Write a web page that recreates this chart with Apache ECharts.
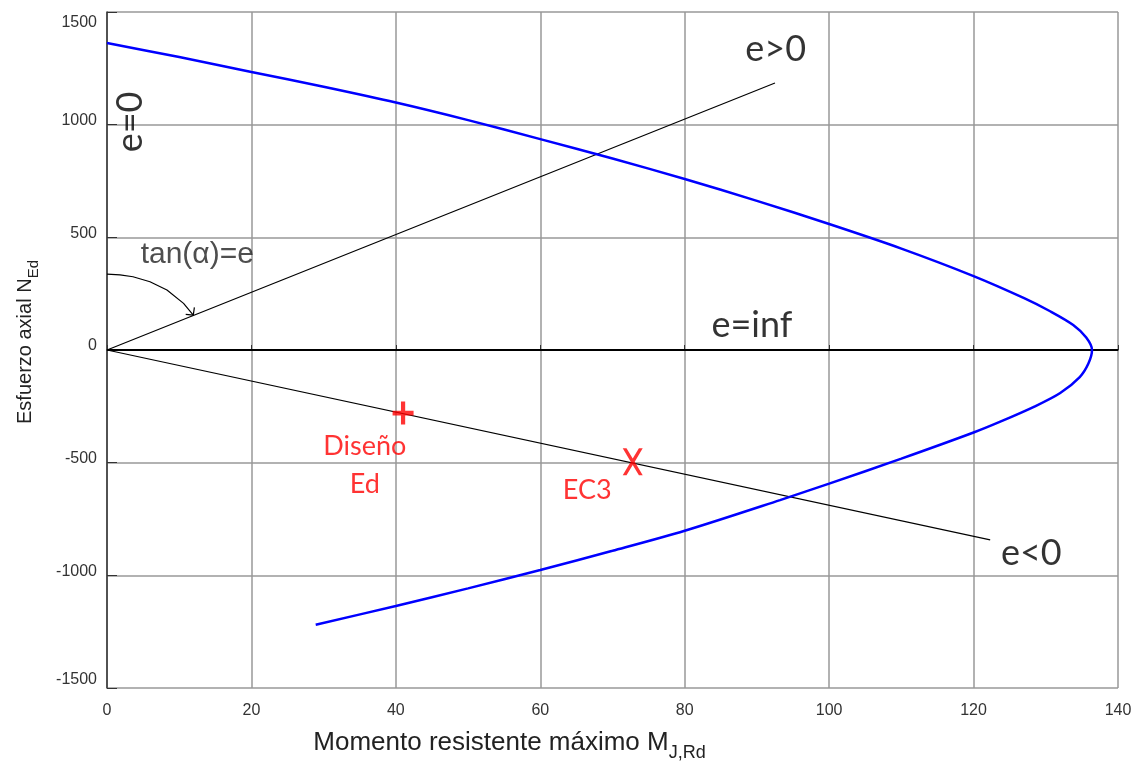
<!DOCTYPE html>
<html>
<head>
<meta charset="utf-8">
<script src="https://cdn.jsdelivr.net/npm/echarts@6/dist/echarts.min.js"></script>
<style>html,body{margin:0;padding:0;background:#fff}#c{width:1143px;height:764px}</style>
</head>
<body>
<div id="c"></div>
<script>
// Interaction curve (M, N)
const curveM = [0, 10, 20, 30, 40, 50, 60, 70, 80, 90, 100, 110, 120, 127, 130.6, 133.8, 135.6, 136.4, 135.9, 134.7, 132, 128.5, 123.7, 120, 110, 100, 93.2, 80, 70, 60, 50, 40, 28.9];
const curveN = [1362, 1300, 1234, 1168, 1098, 1020, 936, 850, 759, 662, 559, 450, 328, 230, 172, 111, 55, 0, -60, -120, -191, -250, -318, -366, -482, -593, -666, -802, -891, -976, -1058, -1136, -1219];
// Eccentricity lines (from origin to end point)
const linePos = [[0, 0], [92.5, 1185]];
const lineNeg = [[0, 0], [122.3, -843]];
const lineInf = [[0, 0], [140, 0]];
// Angle arc and arrowhead
const arcPts = [[0, 337], [1.8, 333], [3.6, 325], [5.95, 303], [8.3, 266], [10.6, 207], [11.95, 155]];
const arrowPts = [[10.9, 158], [11.95, 155], [12.1, 189]];
// Design points
const pointDiseno = [41.0, -280];
const pointEC3 = [72.8, -496];
// Annotation texts [text, M, N]
const annBlack = [['e>0', 92.6, 1332], ['e=inf', 89.3, 107], ['e<0', 128.0, -901]];
const annEq0 = [['e=0', 3.2, 1012]];
const annTan = [['tan(α)=e', 12.5, 424]];
const annRed = [['Diseño', 35.7, -426], ['Ed', 35.7, -595], ['EC3', 66.5, -621]];
// Axes
const xTicks = [0, 20, 40, 60, 80, 100, 120, 140];
const yTicks = [-1500, -1000, -500, 0, 500, 1000, 1500];

const curveData = curveM.map((m, i) => [m, curveN[i]]);
const toAnn = a => a.map(d => ({ name: d[0], value: [d[1], d[2]] }));

const chart = echarts.init(document.getElementById('c'));
const blackLine = (data, w) => ({
  type: 'line', data, symbol: 'none', silent: true,
  lineStyle: { color: '#000', width: w }, z: 3
});
chart.setOption({
  animation: false,
  grid: { left: 107, right: 25, top: 12, bottom: 76, containLabel: false, outerBoundsMode: 'none' },
  xAxis: {
    type: 'value', min: xTicks[0], max: xTicks[xTicks.length - 1], interval: 20,
    axisLine: { lineStyle: { color: '#333', width: 1.5 } },
    axisTick: { inside: true, length: 5, lineStyle: { color: '#333' } },
    splitLine: { lineStyle: { color: '#999', width: 1.5 } },
    axisLabel: { color: '#333', fontSize: 16, fontFamily: 'Liberation Sans', margin: 15 },
    name: '{b|Momento resistente máximo M}{s|J,Rd}',
    nameLocation: 'middle', nameGap: 38,
    nameTextStyle: {
      padding: [0, 206, 0, 0],
      rich: {
        b: { fontSize: 26, color: '#222', fontFamily: 'Liberation Sans', lineHeight: 30, verticalAlign: 'bottom' },
        s: { fontSize: 18, color: '#222', fontFamily: 'Liberation Sans', lineHeight: 30, verticalAlign: 'bottom', padding: [0, 0, -6, 0] }
      }
    }
  },
  yAxis: {
    type: 'value', min: yTicks[0], max: yTicks[yTicks.length - 1], interval: 500,
    axisLine: { lineStyle: { color: '#333', width: 1.5 } },
    axisTick: { inside: true, length: 10, lineStyle: { color: '#333' } },
    splitLine: { lineStyle: { color: '#999', width: 1.5 } },
    axisLabel: {
      color: '#333', fontSize: 16, fontFamily: 'Liberation Sans', margin: 10,
      formatter: v => v === 1500 ? '{t|1500}' : (v === -1500 ? '{d|-1500}' : '{n|' + v + '}'),
      rich: {
        t: { fontSize: 16, color: '#333', fontFamily: 'Liberation Sans', padding: [22, 0, 0, 0] },
        d: { fontSize: 16, color: '#333', fontFamily: 'Liberation Sans', padding: [0, 0, 16, 0] },
        n: { fontSize: 16, color: '#333', fontFamily: 'Liberation Sans', padding: [0, 0, 8, 0] }
      }
    },
    name: '{b|Esfuerzo axial N}{s|Ed}',
    nameLocation: 'middle', nameGap: 72, nameRotate: 90,
    nameTextStyle: {
      padding: [0, 0, 0, 16],
      rich: {
        b: { fontSize: 20, color: '#222', fontFamily: 'Liberation Sans', lineHeight: 26, verticalAlign: 'bottom' },
        s: { fontSize: 15, color: '#222', fontFamily: 'Liberation Sans', lineHeight: 26, verticalAlign: 'bottom', padding: [0, 0, -6, 0] }
      }
    }
  },
  series: [
    blackLine(lineInf, 2),
    blackLine(linePos, 1.2),
    blackLine(lineNeg, 1.2),
    blackLine(arcPts, 1.2),
    blackLine(arrowPts, 1.2),
    {
      type: 'line', data: curveData, symbol: 'none', smooth: 0.3, silent: true,
      lineStyle: { color: '#0000ff', width: 2.5 }, z: 4
    },
    {
      type: 'scatter', data: [pointDiseno], silent: true, z: 5,
      symbol: 'path://M4,0H6V4H10V6H6V10H4V6H0V4H4Z', symbolSize: [21, 23],
      itemStyle: { color: '#ff0000' }
    },
    {
      type: 'scatter', data: [pointEC3], silent: true, z: 5,
      symbol: 'path://M0,0L1.9,0L5,4.6L8.1,0L10,0L6,6L10,12L8.1,12L5,7.4L1.9,12L0,12L4,6Z', symbolSize: [20, 27],
      itemStyle: { color: '#ff0000' }
    },
    {
      type: 'scatter', data: toAnn(annBlack), symbolSize: 0, silent: true, z: 6,
      label: { show: true, position: 'inside', formatter: '{b}', color: '#000', fontSize: 36, fontFamily: 'Lato' }
    },
    {
      type: 'scatter', data: toAnn(annEq0), symbolSize: 0, silent: true, z: 6,
      label: { show: true, position: 'inside', formatter: '{b}', rotate: 90, color: '#000', fontSize: 36, fontFamily: 'Lato' }
    },
    {
      type: 'scatter', data: toAnn(annTan), symbolSize: 0, silent: true, z: 6,
      label: { show: true, position: 'inside', formatter: '{b}', color: '#222', fontSize: 30, fontFamily: 'Liberation Sans' }
    },
    {
      type: 'scatter', data: toAnn(annRed), symbolSize: 0, silent: true, z: 6,
      label: { show: true, position: 'inside', formatter: '{b}', color: '#ff0000', fontSize: 27, fontFamily: 'Lato' }
    }
  ]
});
</script>
</body>
</html>
